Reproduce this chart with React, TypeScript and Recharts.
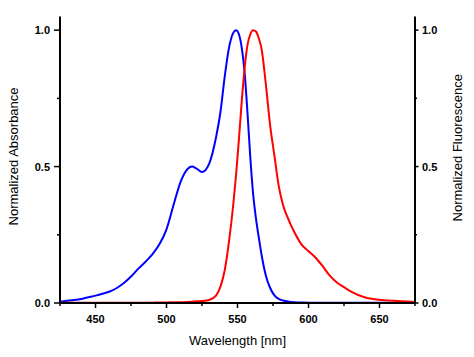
import { LineChart, Line, XAxis, YAxis, Label } from "recharts";

// wavelength grid (nm) used for both spectra
const wavelengths = [
  425, 430, 435, 440, 445, 450, 455, 460, 465, 470, 475, 480, 485, 490, 495, 500,
  505, 510, 515, 518, 521, 525, 530, 535, 538, 541, 544, 547, 549, 551, 553, 555,
  557, 559, 561, 563, 565, 567, 570, 573, 576, 579, 582, 586, 590, 595, 600, 605,
  610, 615, 620, 625, 630, 640, 650, 660, 675,
];

const absorbance = [
  0.005, 0.008, 0.011, 0.015, 0.021, 0.027, 0.034, 0.042, 0.055, 0.073, 0.097, 0.125,
  0.15, 0.178, 0.215, 0.27, 0.36, 0.445, 0.492, 0.5, 0.493, 0.48, 0.51, 0.61, 0.7,
  0.83, 0.935, 0.99, 1.0, 0.985, 0.935, 0.845, 0.7, 0.535, 0.4, 0.31, 0.24, 0.175,
  0.1, 0.055, 0.028, 0.015, 0.009, 0.005, 0.003, 0.002, 0.001, 0.001, 0.001, 0.001,
  0.001, 0.001, 0.001, 0.001, 0.001, 0.001, 0.001,
];

const fluorescence = [
  0.001, 0.001, 0.001, 0.001, 0.001, 0.001, 0.001, 0.001, 0.001, 0.001, 0.001, 0.001,
  0.001, 0.001, 0.002, 0.002, 0.003, 0.003, 0.004, 0.005, 0.006, 0.007, 0.011, 0.028,
  0.06, 0.12, 0.225, 0.36, 0.47, 0.6, 0.74, 0.86, 0.945, 0.985, 1.0, 0.995, 0.97,
  0.93, 0.8, 0.65, 0.54, 0.43, 0.36, 0.305, 0.26, 0.215, 0.19, 0.166, 0.135, 0.1,
  0.075, 0.058, 0.042, 0.02, 0.012, 0.008, 0.004,
];

const xTicks = [425, 450, 475, 500, 525, 550, 575, 600, 625, 650, 675];
const xMajorTicks = [450, 500, 550, 600, 650];
const yTicks = [0, 0.25, 0.5, 0.75, 1];
const yMajorTicks = [0, 0.5, 1];

const data = wavelengths.map((wl, i) => ({
  wl,
  abs: absorbance[i],
  fl: fluorescence[i],
}));

const tickFont = { fontSize: 11, fontWeight: 700, fill: "#000" };

const LeftTick = (props: any) => {
  const { x, y, payload } = props;
  const v = payload.value;
  const major = yMajorTicks.includes(v);
  const ax = x + 10;
  return (
    <g>
      <line x1={ax - (major ? 6 : 3)} x2={ax} y1={y} y2={y} stroke="#000" strokeWidth={1.5} />
      {major && (
        <text x={x} y={y} dy="0.36em" textAnchor="end" {...tickFont}>
          {v.toFixed(1)}
        </text>
      )}
    </g>
  );
};

const RightTick = (props: any) => {
  const { x, y, payload } = props;
  const v = payload.value;
  const major = yMajorTicks.includes(v);
  const ax = x - 7;
  return (
    <g>
      <line x1={ax} x2={ax + (major ? 3.5 : 2)} y1={y} y2={y} stroke="#000" strokeWidth={1.5} />
      {major && (
        <text x={x} y={y} dy="0.36em" textAnchor="start" {...tickFont}>
          {v.toFixed(1)}
        </text>
      )}
    </g>
  );
};

const BottomTick = (props: any) => {
  const { x, y, payload } = props;
  const v = payload.value;
  const major = xMajorTicks.includes(v);
  const ay = y - 12;
  return (
    <g>
      <line x1={x} x2={x} y1={ay} y2={ay + (major ? 5 : 3)} stroke="#000" strokeWidth={1.5} />
      {major && (
        <text x={x} y={y} dy="0.71em" textAnchor="middle" {...tickFont}>
          {v}
        </text>
      )}
    </g>
  );
};

const XTitle = (props: any) => {
  const vb = props.viewBox || { x: 60, y: 303, width: 355, height: 54 };
  return (
    <text x={vb.x + vb.width / 2} y={vb.y + 42} textAnchor="middle" fontSize={13} fill="#000">
      Wavelength [nm]
    </text>
  );
};

const LeftTitle = (props: any) => {
  const vb = props.viewBox || { x: 0, y: 16.5, width: 60, height: 286.5 };
  const cx = vb.x + 18;
  const cy = vb.y + vb.height / 2 - 3.3;
  return (
    <text x={cx} y={cy} transform={`rotate(-90 ${cx} ${cy})`} textAnchor="middle" fontSize={13} fill="#000">
      Normalized Absorbance
    </text>
  );
};

const RightTitle = (props: any) => {
  const vb = props.viewBox || { x: 415, y: 16.5, width: 59, height: 286.5 };
  const cx = vb.x + 46.5;
  const cy = vb.y + vb.height / 2 - 12;
  return (
    <text x={cx} y={cy} transform={`rotate(-90 ${cx} ${cy})`} textAnchor="middle" fontSize={13} fill="#000">
      Normalized Fluorescence
    </text>
  );
};

export default function App() {
  return (
    <div
      style={{
        position: "absolute",
        left: 0,
        top: 0,
        background: "#fff",
        fontFamily: '"Liberation Sans", Arial, sans-serif',
      }}
    >
      <LineChart
        width={474}
        height={357}
        data={data}
        margin={{ top: 16.5, right: 0, bottom: 0, left: 0 }}
      >
        <XAxis
          dataKey="wl"
          type="number"
          domain={[425, 675]}
          ticks={xTicks}
          interval={0}
          height={54}
          tickSize={5}
          tickMargin={7}
          tickLine={false}
          axisLine={{ stroke: "#000", strokeWidth: 2 }}
          tick={<BottomTick />}
        >
          <Label content={<XTitle />} />
        </XAxis>
        <YAxis
          yAxisId="left"
          orientation="left"
          type="number"
          domain={[0, 1.05]}
          ticks={yTicks}
          interval={0}
          width={60}
          tickSize={6}
          tickMargin={4}
          tickLine={false}
          axisLine={{ stroke: "#000", strokeWidth: 2 }}
          tick={<LeftTick />}
        >
          <Label content={<LeftTitle />} />
        </YAxis>
        <YAxis
          yAxisId="right"
          orientation="right"
          type="number"
          domain={[0, 1.05]}
          ticks={yTicks}
          interval={0}
          width={59}
          tickSize={4}
          tickMargin={3}
          tickLine={false}
          axisLine={{ stroke: "#000", strokeWidth: 2 }}
          tick={<RightTick />}
        >
          <Label content={<RightTitle />} />
        </YAxis>
        <Line
          yAxisId="left"
          type="monotone"
          dataKey="abs"
          stroke="#0000ff"
          strokeWidth={2}
          dot={false}
          isAnimationActive={false}
        />
        <Line
          yAxisId="right"
          type="monotone"
          dataKey="fl"
          stroke="#ff0000"
          strokeWidth={2}
          dot={false}
          isAnimationActive={false}
        />
      </LineChart>
    </div>
  );
}
